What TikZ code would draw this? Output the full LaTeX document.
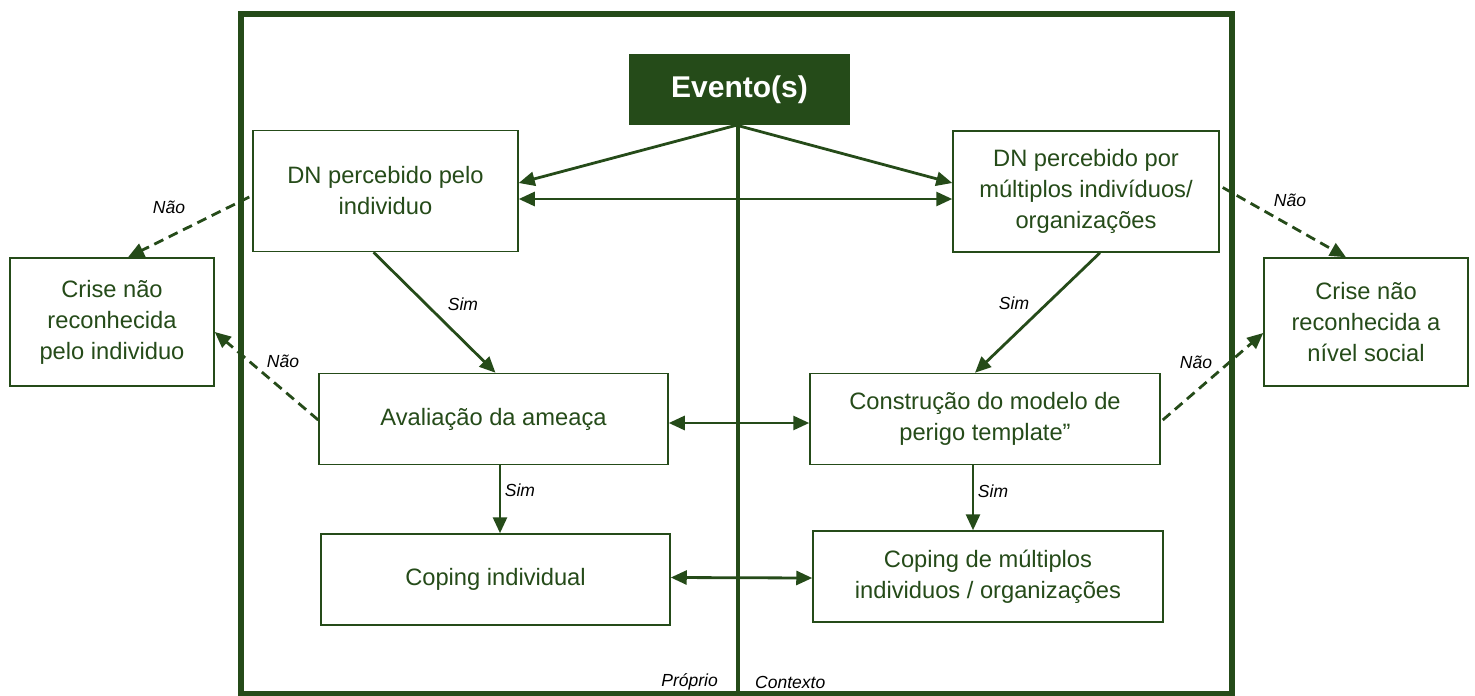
\documentclass[tikz,border=0pt]{standalone}
\usepackage{fontspec}
\setmainfont{Liberation Sans}
\usetikzlibrary{arrows.meta}
\definecolor{dg}{RGB}{37,75,25}
\begin{document}
\begin{tikzpicture}[x=1pt,y=-1pt,
  box/.style={draw=dg, line width=1.5pt, text=dg, align=center, inner sep=0pt, fill=white,
    font=\fontsize{23.7}{31}\selectfont},
  lbl/.style={font=\itshape\fontsize{17.5}{20}\selectfont, text=black, inner sep=0pt},
  arr/.style={draw=dg, line width=2.8pt, -{Triangle[length=16pt,width=14pt]}},
  darr/.style={arr, {Triangle[length=16pt,width=14pt]}-{Triangle[length=16pt,width=14pt]}},
  dsh/.style={arr, dash pattern=on 10pt off 6pt}]
\useasboundingbox (0,0) rectangle (1475,696);
\draw[dg, line width=6pt] (241,14) rectangle (1231.5,694);
\node[fill=dg, text=white, font=\bfseries\fontsize{30}{36}\selectfont, minimum width=221pt, minimum height=71pt, inner sep=0pt] (ev) at (739.5,89.5) {Evento(s)};
\coordinate (cb) at (738,694);
\draw[dg, line width=4.5pt] ([xshift=-1.5pt]ev.south) -- (cb);

\node[box, minimum width=265pt, minimum height=121pt] (dni) at (385.5,191) {DN percebido pelo\\individuo};
\node[box, minimum width=266pt, minimum height=121pt] (dnm) at (1086,191.5) {DN percebido por\\múltiplos indivíduos/\\organizações};
\node[box, minimum width=204pt, minimum height=128pt] (crl) at (112,322) {Crise não\\reconhecida\\pelo individuo};
\node[box, minimum width=204pt, minimum height=128pt] (crr) at (1366,322) {Crise não\\reconhecida a\\nível social};
\node[box, minimum width=349pt, minimum height=91pt] (av) at (493.5,419) {Avaliação da ameaça};
\node[box, minimum width=350pt, minimum height=91pt] (co) at (985,419) {Construção do modelo de\\perigo template”};
\node[box, minimum width=349pt, minimum height=91pt] (ci) at (495.5,579.5) {Coping individual};
\node[box, minimum width=350pt, minimum height=91pt] (cm) at (988,576.5) {Coping de múltiplos\\individuos / organizações};

% solid connectors
\draw[arr] ([xshift=-3pt]ev.south) -- ([yshift=8pt]dni.east);
\draw[arr] ([xshift=-3pt]ev.south) -- ([yshift=8.5pt]dnm.west);
\draw[darr] ([yshift=-8pt]dni.east) -- ([yshift=-7.5pt]dnm.west);
\draw[arr] ([xshift=-12pt]dni.south) -- ([xshift=2pt]av.north);
\draw[arr] ([xshift=14pt]dnm.south) -- ([xshift=-10pt]co.north);
\draw[darr] ([yshift=-4pt]av.east) -- ([yshift=-4pt]co.west);
\draw[arr] ([xshift=6.5pt]av.south) -- ([xshift=6.5pt]av.south |- ci.north);
\draw[arr] ([xshift=-12pt]co.south) -- ([xshift=-12pt]co.south |- cm.north);
\draw[darr] ([yshift=2pt]ci.east) -- ([yshift=-1.5pt]cm.west);

% dashed connectors
\draw[dsh] ([xshift=-3pt,yshift=-6pt]dni.west) -- ([xshift=16pt]crl.north);
\draw[dsh] ([yshift=-1pt]av.west) -- ([yshift=-10pt]crl.east);
\draw[dsh] ([xshift=3pt,yshift=4pt]dnm.east) -- ([xshift=-20pt]crr.north);
\draw[dsh] ([xshift=2pt,yshift=-1pt]co.east) -- ([yshift=-11pt]crr.west);

% labels
\node[lbl] (n1) at (169,207) {Não};
\node[lbl] (n2) at (283,361) {Não};
\node[lbl] (n3) at (1290,200) {Não};
\node[lbl] (n4) at (1196,362) {Não};
\node[lbl] (s1) at (463,304) {Sim};
\node[lbl] (s2) at (1014,303) {Sim};
\node[lbl] (s3) at (520,490) {Sim};
\node[lbl] (s4) at (993,491) {Sim};
\node[lbl, anchor=east] (pr) at (718,682) {Próprio};
\node[lbl, anchor=west] (ct) at (755,682) {Contexto};
\end{tikzpicture}
\end{document}
